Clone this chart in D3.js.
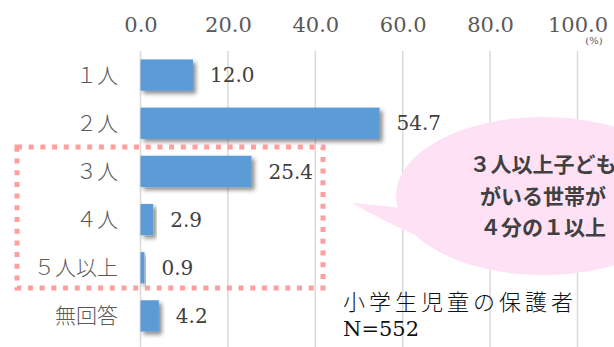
<!DOCTYPE html>
<html><head><meta charset="utf-8">
<script src="https://cdn.jsdelivr.net/npm/d3@7"></script>
<style>
html,body{margin:0;padding:0;background:#fff;}
svg{display:block;}
</style></head>
<body>
<script>
const categories = ["１人", "２人", "３人", "４人", "５人以上", "無回答"];
const values = [12.0, 54.7, 25.4, 2.9, 0.9, 4.2];
const tickValues = [0, 20, 40, 60, 80, 100];
const tickLabels = ["0.0", "20.0", "40.0", "60.0", "80.0", "100.0"];
const bubbleLines = ["３人以上子ども", "がいる世帯が", "４分の１以上"];
const noteLines = ["小学生児童の保護者", "N=552"];

const W = 614, H = 347;
const serif = "'DejaVu Serif', 'Liberation Serif', 'Noto Sans CJK JP', serif";
const cjk = "'Noto Sans CJK JP', sans-serif";

const svg = d3.select("body").append("svg").attr("width", W).attr("height", H);
const defs = svg.append("defs");
const f = defs.append("filter").attr("id", "sh").attr("x", "-20%").attr("y", "-30%").attr("width", "150%").attr("height", "180%");
f.append("feDropShadow").attr("dx", 3).attr("dy", 3).attr("stdDeviation", 2)
  .attr("flood-color", "#000").attr("flood-opacity", 0.45);

const x = d3.scaleLinear().domain([0, 100]).range([140.5, 577.5]);
const y = d3.scaleBand().domain(categories).range([51, 340]).paddingInner(0.35).paddingOuter(0.175);

// gridlines
svg.append("g").selectAll("line").data(tickValues).join("line")
  .attr("x1", d => x(d)).attr("x2", d => x(d))
  .attr("y1", 51).attr("y2", H)
  .attr("stroke", "#d9d9d9").attr("stroke-width", 1.5);

// top axis labels
const ax = d3.axisTop(x).tickValues(tickValues).tickFormat((d, i) => tickLabels[i]).tickSize(0).tickPadding(0);
const axg = svg.append("g").attr("transform", "translate(0,32)").call(ax);
axg.select(".domain").remove();
axg.selectAll("text").attr("font-family", serif).attr("font-size", 21).attr("fill", "#595959");

svg.append("text").attr("x", 594).attr("y", 44).attr("text-anchor", "middle")
  .attr("font-family", serif).attr("font-size", 10).attr("fill", "#595959").text("(%)");

// speech bubble
const bcx = 543, bcy = 196, brx = 147, bry = 79;
const bub = svg.append("g");
bub.append("path")
  .attr("d", `M ${bcx - brx + 5} ${bcy + 12} Q 375 205 352 203 Q 385 222 ${bcx - brx + 22} ${bcy + 40} Z`)
  .attr("fill", "#ffe1f6");
bub.append("ellipse").attr("cx", bcx).attr("cy", bcy).attr("rx", brx).attr("ry", bry).attr("fill", "#ffe1f6");
bub.selectAll("text").data(bubbleLines).join("text")
  .attr("x", bcx).attr("y", (d, i) => 172 + i * 31.5)
  .attr("text-anchor", "middle")
  .attr("font-family", cjk).attr("font-weight", 700).attr("font-size", 21)
  .attr("fill", "#404040").text(d => d);

// bars
svg.append("g").selectAll("rect").data(values).join("rect")
  .attr("x", x(0)).attr("y", (d, i) => y(categories[i]))
  .attr("width", d => x(d) - x(0)).attr("height", y.bandwidth())
  .attr("fill", "#5b9bd5").attr("filter", "url(#sh)");

// value labels
svg.append("g").selectAll("text").data(values).join("text")
  .attr("x", d => x(d) + 17).attr("y", (d, i) => y(categories[i]) + y.bandwidth() / 2)
  .attr("dy", "0.36em")
  .attr("font-family", serif).attr("font-size", 20).attr("fill", "#404040")
  .text(d => d.toFixed(1));

// category labels
svg.append("g").selectAll("text").data(categories).join("text")
  .attr("x", 118).attr("y", d => y(d) + y.bandwidth() / 2)
  .attr("dy", "0.36em").attr("text-anchor", "end")
  .attr("font-family", cjk).attr("font-weight", 300).attr("font-size", 21).attr("fill", "#595959")
  .text(d => d);

// dotted highlight rectangle
svg.append("rect").attr("x", 17).attr("y", 147).attr("width", 306).attr("height", 141)
  .attr("fill", "none").attr("stroke", "#ff9e9e").attr("stroke-width", 5)
  .attr("stroke-dasharray", "5 6.7");

// note
svg.append("text").attr("x", 343).attr("y", 310)
  .attr("font-family", cjk).attr("font-weight", 300).attr("font-size", 22)
  .attr("letter-spacing", 4)
  .attr("fill", "#111").text(noteLines[0]);
svg.append("text").attr("x", 343).attr("y", 336)
  .attr("font-family", serif).attr("font-size", 21)
  .attr("fill", "#111").text(noteLines[1]);
</script>
</body></html>
